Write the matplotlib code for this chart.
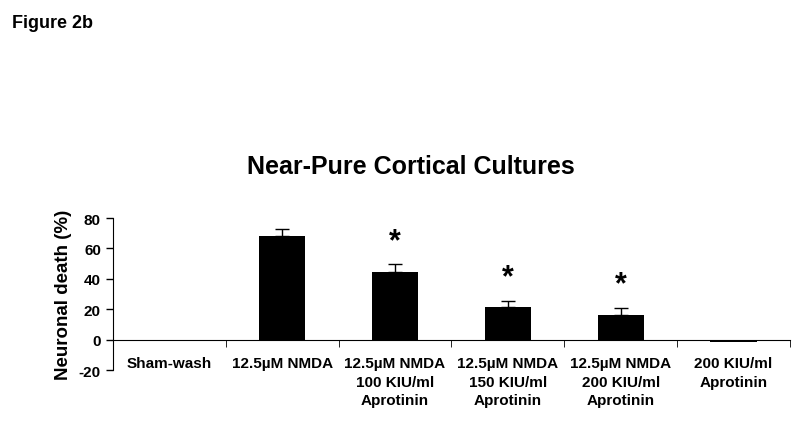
import matplotlib.pyplot as plt
import numpy as np

plt.rcParams['font.family'] = ['Liberation Sans', 'DejaVu Sans']
plt.rcParams['axes.unicode_minus'] = False

# dados
grupos = ['Sham-wash', '12.5µM NMDA', '12.5µM NMDA\n100 KIU/ml\nAprotinin',
          '12.5µM NMDA\n150 KIU/ml\nAprotinin', '12.5µM NMDA\n200 KIU/ml\nAprotinin',
          '200 KIU/ml\nAprotinin']
morte = [0, 68, 44.5, 21.5, 16.5, -1.5]
erro = [0, 5, 5, 4, 4.5, 0]
significativo = [False, False, True, True, True, False]

fig = plt.figure(figsize=(8, 4.27), dpi=100)
ax = fig.add_axes([0.141, 0.131, 0.8465, 0.356])

x = np.arange(len(grupos))
ax.bar(x, morte, width=0.41, color='black', zorder=2)
for i in range(len(grupos)):
    if erro[i] > 0:
        ax.errorbar(x[i], morte[i], yerr=[[0], [erro[i]]], fmt='none',
                    ecolor='black', elinewidth=1, capsize=5, capthick=1)
    if significativo[i]:
        ax.annotate('*', (x[i], morte[i] + erro[i]), xytext=(0, 6),
                    textcoords='offset points', ha='center', va='bottom',
                    fontsize=22, fontweight='bold')

ax.set_xlim(-0.5, len(grupos) - 0.5)
ax.set_ylim(-20, 80)
ax.set_yticks([-20, 0, 20, 40, 60, 80])
ax.tick_params(axis='y', labelsize=11, length=5, width=1, direction='out')
for t in ax.get_yticklabels():
    t.set_fontweight('bold')

ax.spines['top'].set_visible(False)
ax.spines['right'].set_visible(False)
ax.spines['bottom'].set_position(('data', 0))
ax.set_xticks(x)
ax.set_xticklabels(grupos, fontsize=11, fontweight='bold', linespacing=1.4)
ax.tick_params(axis='x', which='major', length=0, pad=12)
ax.set_xticks(np.arange(len(grupos) + 1) - 0.5, minor=True)
ax.tick_params(axis='x', which='minor', length=5, direction='out')

ax.set_ylabel('Neuronal death (%)', fontsize=13.5, fontweight='bold', labelpad=5)
fig.text(0.513, 0.61, 'Near-Pure Cortical Cultures', ha='center', va='center',
         fontsize=18, fontweight='bold')
fig.text(0.015, 0.944, 'Figure 2b', ha='left', va='center', fontsize=13,
         fontweight='bold')

plt.savefig('out.png', dpi=100)
